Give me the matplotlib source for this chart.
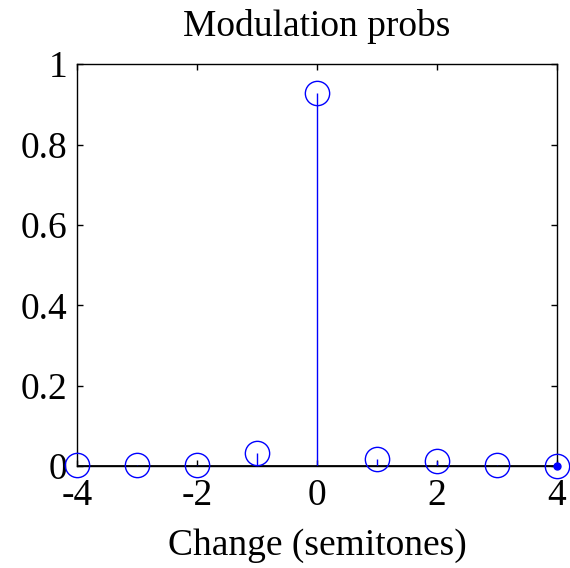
import matplotlib
matplotlib.use('Agg')
import matplotlib.pyplot as plt
import numpy as np

plt.rcParams['font.family'] = ['Liberation Serif', 'DejaVu Serif']

# semitone changes and their probabilities
semitones = [-4, -3, -2, -1, 0, 1, 2, 3, 4]
probs = [0.003, 0.002, 0.003, 0.033, 0.928, 0.017, 0.012, 0.003, 0.0]
x_ticks = [-4, -2, 0, 2, 4]
y_ticks = [0, 0.2, 0.4, 0.6, 0.8, 1]
y_labels = ['0', '0.2', '0.4', '0.6', '0.8', '1']

fig = plt.figure(figsize=(5.70, 5.68), dpi=100)
ax = fig.add_axes([0.135, 0.1796, 0.842, 0.7074])

blue = '#0000ff'
ax.vlines(semitones, 0, probs, colors=blue, linewidth=1.0, zorder=2)
ax.plot(semitones, probs, 'o', markersize=17.5, markerfacecolor='none',
        markeredgecolor=blue, markeredgewidth=1.0, zorder=3, clip_on=False)
# filled dot at the last point
ax.plot(semitones[-1], probs[-1], 'o', markersize=5, color=blue, zorder=4, clip_on=False)
# baseline
ax.axhline(0, color='black', linewidth=2.0, zorder=1)

ax.set_xlim(-4, 4)
ax.set_ylim(0, 1)
ax.set_xticks(x_ticks)
ax.set_xticklabels([str(t) for t in x_ticks])
ax.set_yticks(y_ticks)
ax.set_yticklabels(y_labels)
ax.tick_params(direction='in', length=4, width=1, labelsize=27, top=True, right=True)
ax.tick_params(axis='x', pad=9)
ax.tick_params(axis='y', pad=7)
for s in ax.spines.values():
    s.set_linewidth(1.0)

ax.set_title('Modulation probs', fontsize=27, pad=20)
ax.set_xlabel('Change (semitones)', fontsize=27, labelpad=11)

fig.savefig('out.png', dpi=100)
